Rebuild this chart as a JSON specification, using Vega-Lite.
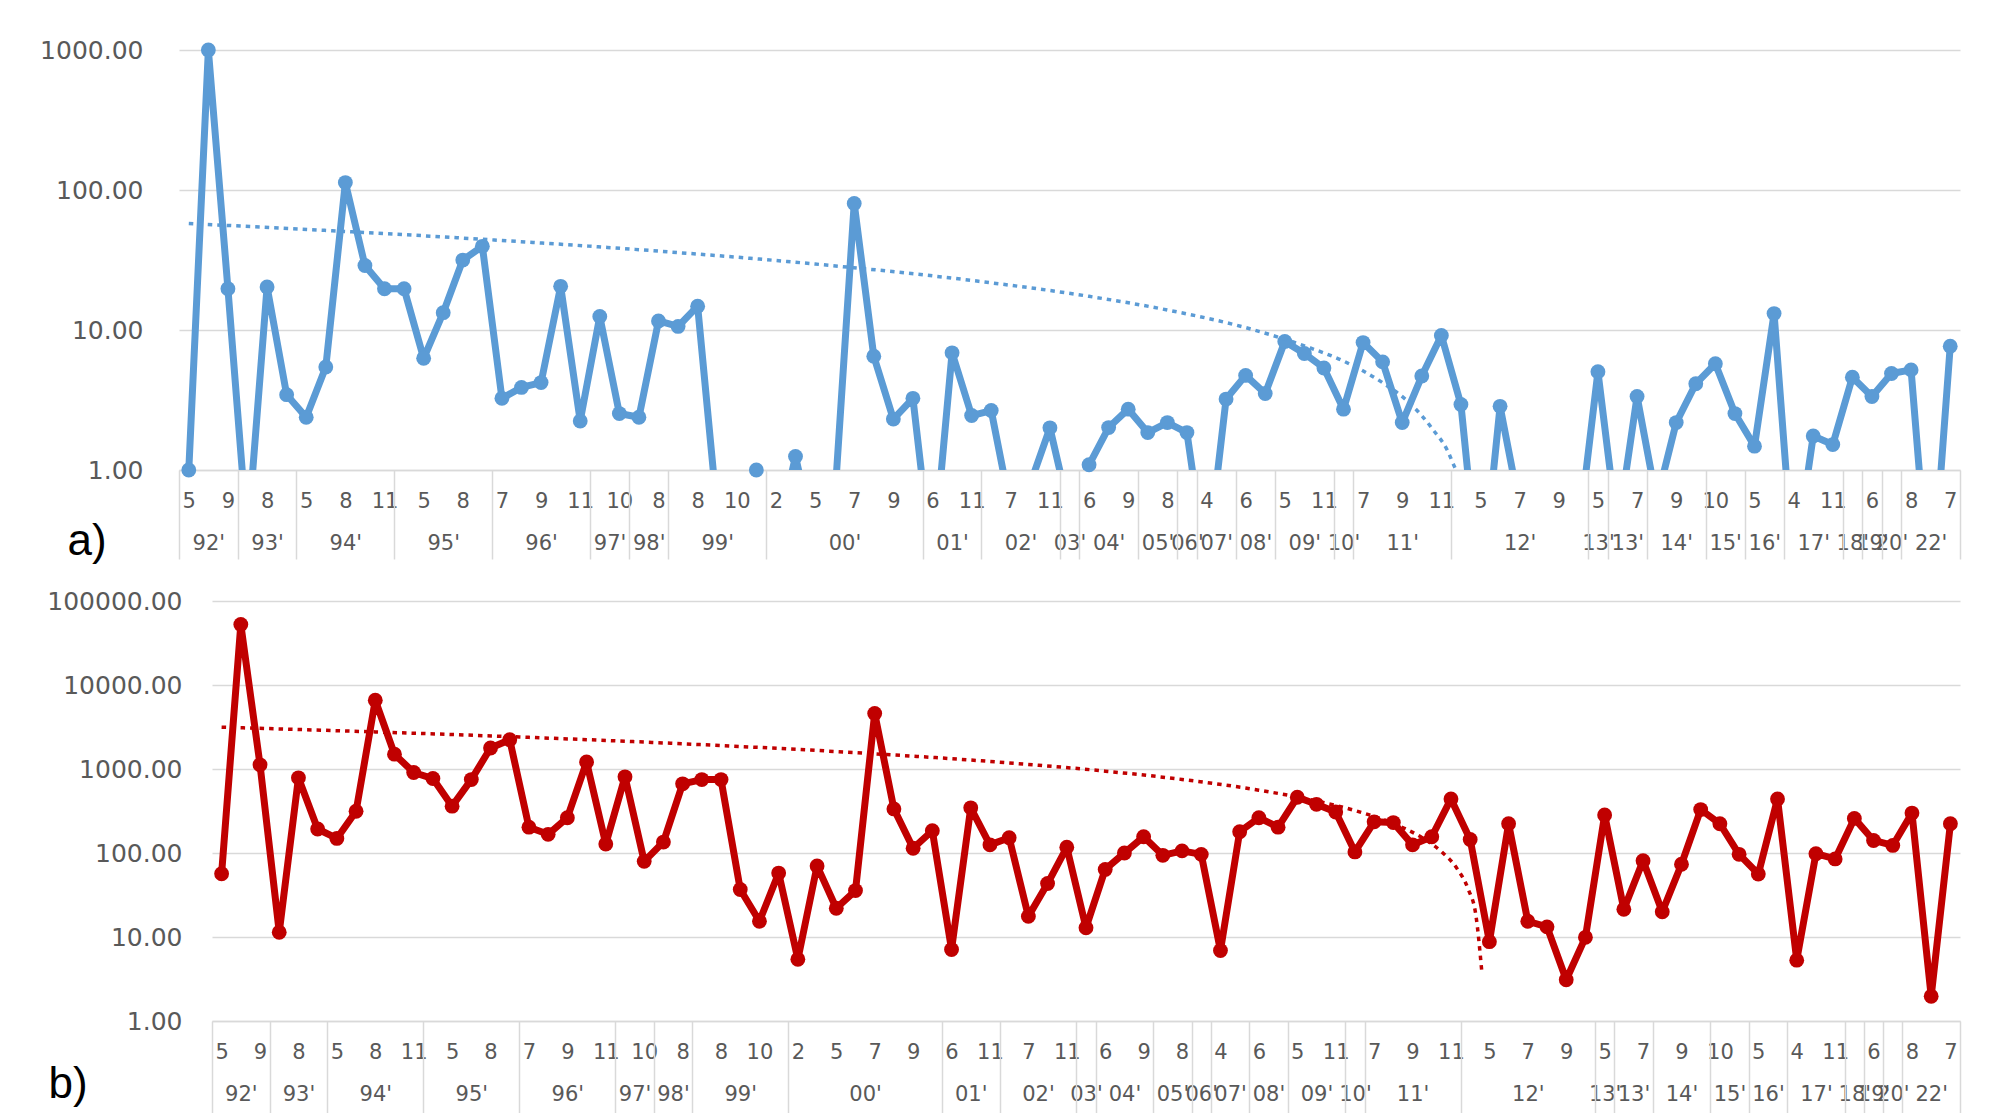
{
  "$schema": "https://vega.github.io/schema/vega-lite/v6.json",
  "padding": {"left": 39, "top": 38, "right": 20, "bottom": 0},
  "background": "white",
  "config": {"view": {"stroke": null}, "axis": {"labelFont": "DejaVu Sans", "labelColor": "#595959"}},
  "datasets": {
    "main": [
      {"i":0,"a":1.0,"b":56.6},{"i":1,"a":1000,"b":52500},{"i":2,"a":19.7,"b":1122},{"i":3,"a":0.33,"b":11.4},
      {"i":4,"a":20.3,"b":785},{"i":5,"a":3.45,"b":193},{"i":6,"a":2.38,"b":149},{"i":7,"a":5.44,"b":314},
      {"i":8,"a":113,"b":6577},{"i":9,"a":28.9,"b":1500},{"i":10,"a":19.7,"b":908},{"i":11,"a":19.7,"b":770},
      {"i":12,"a":6.28,"b":361},{"i":13,"a":13.3,"b":748},{"i":14,"a":31.6,"b":1780},{"i":15,"a":39.6,"b":2228},
      {"i":16,"a":3.25,"b":203},{"i":17,"a":3.89,"b":167},{"i":18,"a":4.21,"b":263},{"i":19,"a":20.5,"b":1211},
      {"i":20,"a":2.24,"b":128},{"i":21,"a":12.5,"b":807},{"i":22,"a":2.53,"b":79.5},{"i":23,"a":2.38,"b":135},
      {"i":24,"a":11.6,"b":666},{"i":25,"a":10.6,"b":748},{"i":26,"a":14.8,"b":748},{"i":27,"a":0.5,"b":36.8},
      {"i":28,"a":0.3,"b":15.4},{"i":29,"a":1.0,"b":57.7},{"i":30,"a":0.3,"b":5.42},{"i":31,"a":1.25,"b":70.2},
      {"i":32,"a":0.3,"b":22.0},{"i":33,"a":0.6,"b":35.7},{"i":34,"a":80.2,"b":4592},{"i":35,"a":6.5,"b":335},
      {"i":36,"a":2.31,"b":114},{"i":37,"a":3.25,"b":184},{"i":38,"a":0.2,"b":7.1},{"i":39,"a":6.87,"b":345},
      {"i":40,"a":2.45,"b":125},{"i":41,"a":2.66,"b":152},{"i":42,"a":0.52,"b":17.6},{"i":43,"a":0.8,"b":43.3},
      {"i":44,"a":2.0,"b":117},{"i":45,"a":0.5,"b":12.9},{"i":46,"a":1.09,"b":63.7},{"i":47,"a":2.01,"b":100},
      {"i":48,"a":2.72,"b":156},{"i":49,"a":1.85,"b":93.8},{"i":50,"a":2.18,"b":106},{"i":51,"a":1.85,"b":96.3},
      {"i":52,"a":0.2,"b":6.9},{"i":53,"a":3.21,"b":179},{"i":54,"a":4.74,"b":263},{"i":55,"a":3.52,"b":203},
      {"i":56,"a":8.28,"b":461},{"i":57,"a":6.79,"b":380},{"i":58,"a":5.35,"b":308},{"i":59,"a":2.72,"b":103},
      {"i":60,"a":8.13,"b":235},{"i":61,"a":5.92,"b":230},{"i":62,"a":2.18,"b":125},{"i":63,"a":4.69,"b":156},
      {"i":64,"a":9.15,"b":440},{"i":65,"a":2.94,"b":145},{"i":66,"a":0.12,"b":8.8},{"i":67,"a":2.85,"b":223},
      {"i":68,"a":0.54,"b":15.4},{"i":69,"a":0.3,"b":13.2},{"i":70,"a":0.3,"b":3.1},{"i":71,"a":0.34,"b":9.9},
      {"i":72,"a":5.04,"b":284},{"i":73,"a":0.37,"b":21.4},{"i":74,"a":3.35,"b":81},{"i":75,"a":0.6,"b":20},
      {"i":76,"a":2.18,"b":73.5},{"i":77,"a":4.13,"b":329},{"i":78,"a":5.74,"b":223},{"i":79,"a":2.53,"b":96.4},
      {"i":80,"a":1.48,"b":56.2},{"i":81,"a":13.1,"b":440},{"i":82,"a":0.19,"b":5.3},{"i":83,"a":1.75,"b":98},
      {"i":84,"a":1.52,"b":85},{"i":85,"a":4.6,"b":258},{"i":86,"a":3.35,"b":141},{"i":87,"a":4.89,"b":123},
      {"i":88,"a":5.19,"b":299},{"i":89,"a":0.1,"b":1.97},{"i":90,"a":7.65,"b":223}
    ],
    "trendA": [
      {"i":0,"v":57.6},{"i":8,"v":50.6},{"i":16,"v":43.6},{"i":24,"v":36.6},{"i":32,"v":29.6},{"i":40,"v":22.6},
      {"i":46,"v":17.4},{"i":50,"v":13.9},{"i":54,"v":10.4},{"i":57,"v":7.7},{"i":59,"v":6.0},{"i":61,"v":4.2},
      {"i":62.5,"v":2.9},{"i":63.5,"v":2.0},{"i":64.5,"v":1.2},{"i":65.3,"v":0.5},{"i":65.7,"v":0.15}
    ],
    "trendB": [
      {"i":0,"v":3146},{"i":8,"v":2763},{"i":16,"v":2380},{"i":24,"v":1996},{"i":32,"v":1613},{"i":40,"v":1230},
      {"i":46,"v":943},{"i":50,"v":751},{"i":54,"v":560},{"i":57,"v":416},{"i":59,"v":320},{"i":61,"v":224},
      {"i":62.5,"v":152},{"i":63.5,"v":104},{"i":64.3,"v":66},{"i":64.9,"v":37},{"i":65.3,"v":18},{"i":65.6,"v":4}
    ]
  },
  "spacing": 26,
  "vconcat": [
    {
      "width": 1781,
      "height": 420,
      "resolve": {"axis": {"x": "independent"}},
      "layer": [
        {
          "data": {"name": "main"},
          "mark": {"type": "line", "color": "#5B9BD5", "strokeWidth": 7, "clip": true, "strokeJoin": "round"},
          "encoding": {
            "x": {"field": "i", "type": "quantitative", "scale": {"domain": [-0.5, 90.5], "nice": false, "zero": false},
              "axis": {"orient": "bottom", "values": [0,2,4,6,8,10,12,14,16,18,20,22,24,26,28,30,32,34,36,38,40,42,44,46,48,50,52,54,56,58,60,62,64,66,68,70,72,74,76,78,80,82,84,86,88,90],
                "labelExpr": "['5','9','8','5','8','11','5','8','7','9','11','10','8','8','10','2','5','7','9','6','11','7','11','6','9','8','4','6','5','11','7','9','11','5','7','9','5','7','9','10','5','4','11','6','8','7'][datum.value/2]",
                "ticks": false, "grid": false, "domain": true, "domainColor": "#D9D9D9", "domainWidth": 1.5,
                "labelPadding": 20, "labelFontSize": 21, "labelOverlap": false, "labelFlush": false, "title": null}},
            "y": {"field": "a", "type": "quantitative", "scale": {"type": "log", "domain": [1, 1000], "nice": false},
              "axis": {"values": [1, 10, 100, 1000], "format": ".2f", "grid": true, "gridColor": "#D9D9D9", "gridWidth": 1.5,
                "domain": false, "ticks": false, "labelPadding": 36, "labelFontSize": 25, "title": null}}
          }
        },
        {
          "data": {"name": "main"},
          "transform": [{"filter": "datum.a >= 1"}],
          "mark": {"type": "point", "filled": true, "size": 220, "color": "#5B9BD5", "opacity": 1},
          "encoding": {
            "x": {"field": "i", "type": "quantitative", "scale": {"domain": [-0.5, 90.5], "nice": false, "zero": false},
              "axis": {"orient": "bottom", "values": [1,4,8,13,18,21.5,23.5,27,33.5,39,42.5,45,47,49.5,51,52.5,54.5,57,59,62,68,72,73.5,76,78.5,80.5,83,85,86,87,89],
                "labelExpr": "[\"92'\",\"93'\",\"94'\",\"95'\",\"96'\",\"97'\",\"98'\",\"99'\",\"00'\",\"01'\",\"02'\",\"03'\",\"04'\",\"05'\",\"06'\",\"07'\",\"08'\",\"09'\",\"10'\",\"11'\",\"12'\",\"13'\",\"13'\",\"14'\",\"15'\",\"16'\",\"17'\",\"18'\",\"19'\",\"20'\",\"22'\"][indexof([1,4,8,13,18,21.5,23.5,27,33.5,39,42.5,45,47,49.5,51,52.5,54.5,57,59,62,68,72,73.5,76,78.5,80.5,83,85,86,87,89], datum.value)]",
                "ticks": false, "grid": false, "domain": false, "labelPadding": 62, "labelFontSize": 21,
                "labelOverlap": false, "labelFlush": false, "title": null}},
            "y": {"field": "a", "type": "quantitative", "scale": {"type": "log", "domain": [1, 1000], "nice": false},
              "axis": {"values": [1, 10, 100, 1000], "format": ".2f", "grid": true, "gridColor": "#D9D9D9", "gridWidth": 1.5,
                "domain": false, "ticks": false, "labelPadding": 36, "labelFontSize": 25, "title": null}}
          }
        },
        {
          "data": {"name": "trendA"},
          "mark": {"type": "line", "color": "#5B9BD5", "strokeWidth": 3.5, "strokeDash": [4.5, 5], "clip": true, "interpolate": "monotone"},
          "encoding": {
            "x": {"field": "i", "type": "quantitative", "scale": {"domain": [-0.5, 90.5], "nice": false, "zero": false},
              "axis": {"orient": "bottom", "values": [-0.5,2.5,5.5,10.5,15.5,20.5,22.5,24.5,29.5,37.5,40.5,44.5,45.5,48.5,50.5,51.5,53.5,55.5,58.5,59.5,64.5,71.5,72.5,74.5,77.5,79.5,81.5,84.5,85.5,86.5,87.5,90.5],
                "labels": false, "ticks": true, "tickSize": 89, "tickColor": "#D9D9D9", "tickWidth": 1.5, "domain": false, "grid": false,
                "title": "a)", "titleX": -112, "titleY": 84, "titleAlign": "left", "titleBaseline": "alphabetic",
                "titleFont": "Liberation Sans", "titleFontSize": 44, "titleFontWeight": "normal", "titleColor": "#000000"}},
            "y": {"field": "v", "type": "quantitative", "scale": {"type": "log", "domain": [1, 1000], "nice": false},
              "axis": {"values": [1, 10, 100, 1000], "format": ".2f", "grid": true, "gridColor": "#D9D9D9", "gridWidth": 1.5,
                "domain": false, "ticks": false, "labelPadding": 36, "labelFontSize": 25, "title": null}}
          }
        }
      ]
    },
    {
      "width": 1781,
      "height": 420,
      "resolve": {"axis": {"x": "independent"}},
      "layer": [
        {
          "data": {"name": "main"},
          "mark": {"type": "line", "color": "#C00000", "strokeWidth": 7, "clip": true, "strokeJoin": "round"},
          "encoding": {
            "x": {"field": "i", "type": "quantitative", "scale": {"domain": [-0.5, 90.5], "range": [33, 1781], "nice": false, "zero": false},
              "axis": {"orient": "bottom", "values": [0,2,4,6,8,10,12,14,16,18,20,22,24,26,28,30,32,34,36,38,40,42,44,46,48,50,52,54,56,58,60,62,64,66,68,70,72,74,76,78,80,82,84,86,88,90],
                "labelExpr": "['5','9','8','5','8','11','5','8','7','9','11','10','8','8','10','2','5','7','9','6','11','7','11','6','9','8','4','6','5','11','7','9','11','5','7','9','5','7','9','10','5','4','11','6','8','7'][datum.value/2]",
                "ticks": false, "grid": false, "domain": true, "domainColor": "#D9D9D9", "domainWidth": 1.5,
                "labelPadding": 20, "labelFontSize": 21, "labelOverlap": false, "labelFlush": false, "title": null}},
            "y": {"field": "b", "type": "quantitative", "scale": {"type": "log", "domain": [1, 100000], "nice": false},
              "axis": {"values": [1, 10, 100, 1000, 10000, 100000], "format": ".2f", "grid": true, "gridColor": "#D9D9D9", "gridWidth": 1.5,
                "domain": false, "ticks": false, "labelPadding": -3, "labelFontSize": 25, "title": null}}
          }
        },
        {
          "data": {"name": "main"},
          "transform": [{"filter": "datum.b >= 1"}],
          "mark": {"type": "point", "filled": true, "size": 220, "color": "#C00000", "opacity": 1},
          "encoding": {
            "x": {"field": "i", "type": "quantitative", "scale": {"domain": [-0.5, 90.5], "range": [33, 1781], "nice": false, "zero": false},
              "axis": {"orient": "bottom", "values": [1,4,8,13,18,21.5,23.5,27,33.5,39,42.5,45,47,49.5,51,52.5,54.5,57,59,62,68,72,73.5,76,78.5,80.5,83,85,86,87,89],
                "labelExpr": "[\"92'\",\"93'\",\"94'\",\"95'\",\"96'\",\"97'\",\"98'\",\"99'\",\"00'\",\"01'\",\"02'\",\"03'\",\"04'\",\"05'\",\"06'\",\"07'\",\"08'\",\"09'\",\"10'\",\"11'\",\"12'\",\"13'\",\"13'\",\"14'\",\"15'\",\"16'\",\"17'\",\"18'\",\"19'\",\"20'\",\"22'\"][indexof([1,4,8,13,18,21.5,23.5,27,33.5,39,42.5,45,47,49.5,51,52.5,54.5,57,59,62,68,72,73.5,76,78.5,80.5,83,85,86,87,89], datum.value)]",
                "ticks": false, "grid": false, "domain": false, "labelPadding": 62, "labelFontSize": 21,
                "labelOverlap": false, "labelFlush": false, "title": null}},
            "y": {"field": "b", "type": "quantitative", "scale": {"type": "log", "domain": [1, 100000], "nice": false},
              "axis": {"values": [1, 10, 100, 1000, 10000, 100000], "format": ".2f", "grid": true, "gridColor": "#D9D9D9", "gridWidth": 1.5,
                "domain": false, "ticks": false, "labelPadding": -3, "labelFontSize": 25, "title": null}}
          }
        },
        {
          "data": {"name": "trendB"},
          "mark": {"type": "line", "color": "#C00000", "strokeWidth": 3.5, "strokeDash": [4.5, 5], "clip": true, "interpolate": "monotone"},
          "encoding": {
            "x": {"field": "i", "type": "quantitative", "scale": {"domain": [-0.5, 90.5], "range": [33, 1781], "nice": false, "zero": false},
              "axis": {"orient": "bottom", "values": [-0.5,2.5,5.5,10.5,15.5,20.5,22.5,24.5,29.5,37.5,40.5,44.5,45.5,48.5,50.5,51.5,53.5,55.5,58.5,59.5,64.5,71.5,72.5,74.5,77.5,79.5,81.5,84.5,85.5,86.5,87.5,90.5],
                "labels": false, "ticks": true, "tickSize": 92, "tickColor": "#D9D9D9", "tickWidth": 1.5, "domain": false, "grid": false,
                "title": "b)", "titleX": -131, "titleY": 76, "titleAlign": "left", "titleBaseline": "alphabetic",
                "titleFont": "Liberation Sans", "titleFontSize": 44, "titleFontWeight": "normal", "titleColor": "#000000"}},
            "y": {"field": "v", "type": "quantitative", "scale": {"type": "log", "domain": [1, 100000], "nice": false},
              "axis": {"values": [1, 10, 100, 1000, 10000, 100000], "format": ".2f", "grid": true, "gridColor": "#D9D9D9", "gridWidth": 1.5,
                "domain": false, "ticks": false, "labelPadding": -3, "labelFontSize": 25, "title": null}}
          }
        }
      ]
    }
  ]
}
